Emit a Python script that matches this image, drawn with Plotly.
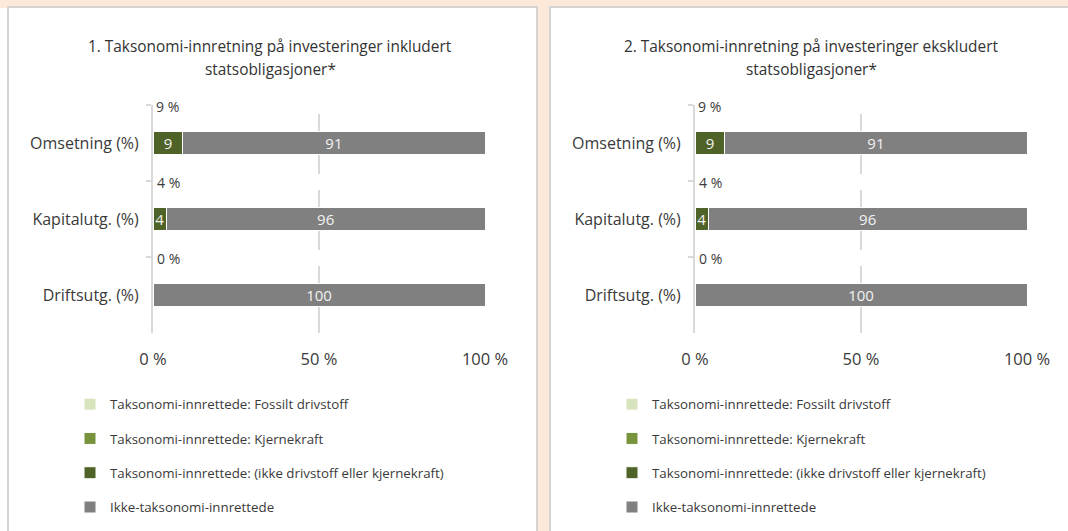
import plotly.graph_objects as go

W, H = 1068, 531

categories = ["Omsetning (%)", "Kapitalutg. (%)", "Driftsutg. (%)"]

series_names = [
    "Taksonomi-innrettede: Fossilt drivstoff",
    "Taksonomi-innrettede: Kjernekraft",
    "Taksonomi-innrettede: (ikke drivstoff eller kjernekraft)",
    "Ikke-taksonomi-innrettede",
]
series_colors = ["#d7e4bd", "#77933c", "#4f6228", "#808080"]

# Chart 1: including government bonds
c1_fossil = [0, 0, 0]
c1_nuclear = [0, 0, 0]
c1_aligned = [9, 4, 0]
c1_not_aligned = [91, 96, 100]
c1_total_aligned = [9, 4, 0]

# Chart 2: excluding government bonds
c2_fossil = [0, 0, 0]
c2_nuclear = [0, 0, 0]
c2_aligned = [9, 4, 0]
c2_not_aligned = [91, 96, 100]
c2_total_aligned = [9, 4, 0]

titles = [
    ["1. Taksonomi-innretning på investeringer inkludert", "statsobligasjoner*"],
    ["2. Taksonomi-innretning på investeringer ekskludert", "statsobligasjoner*"],
]

x_ticks = [0, 50, 100]
x_ticktext = ["0 %", "50 %", "100 %"]

FONT = "Open Sans"
TXT = "#3a3a3a"
GRID = "#d9d9d9"
BG = "#fce9d9"

LABEL_SHIFT = 37  # px above the bar centre for the "x %" labels
BAND_PX = 76      # pixel height of one category band

fig = go.Figure()

charts = [
    ([c1_fossil, c1_nuclear, c1_aligned, c1_not_aligned], c1_total_aligned, "x", "y", "legend"),
    ([c2_fossil, c2_nuclear, c2_aligned, c2_not_aligned], c2_total_aligned, "x2", "y2", "legend2"),
]

for ci, (vals, totals, xa, ya, leg) in enumerate(charts):
    for si, (name, color, v) in enumerate(zip(series_names, series_colors, vals)):
        fig.add_trace(go.Bar(
            x=v, y=categories, orientation="h",
            name=name, xaxis=xa, yaxis=ya, legend=leg,
            legendgroup=f"{leg}_{si}",
            marker=dict(color=color, line=dict(color="white", width=1)),
            text=[str(t) if t > 0 else "" for t in v],
            textposition="inside", insidetextanchor="middle", textangle=0,
            textfont=dict(family=FONT, size=15, color="#f2f2f2"),
            hoverinfo="skip",
        ))
    for i, (cat, t) in enumerate(zip(categories, totals)):
        big = t >= 5
        fig.add_annotation(
            x=t / 2 if big else 0, y=cat, xref=xa, yref=ya,
            text=f"{t} %", showarrow=False,
            xanchor="center" if big else "left", yanchor="middle",
            yshift=LABEL_SHIFT, xshift=0 if big else 2,
            font=dict(family=FONT, size=14, color=TXT),
        )
        # white gap in the 50 % gridline behind the label row
        fig.add_shape(type="rect", xref=xa, yref=ya,
                      x0=48, x1=52,
                      y0=i - (LABEL_SHIFT + 8) / BAND_PX,
                      y1=i - (LABEL_SHIFT - 8) / BAND_PX,
                      fillcolor="white", line=dict(width=0), layer="between")

# Panels
panels = [(8, 537), (550, 1080)]
for x0, x1 in panels:
    fig.add_shape(type="rect", xref="paper", yref="paper",
                  x0=x0 / W, x1=x1 / W, y0=-0.05, y1=1 - 7 / H,
                  fillcolor="white", line=dict(color="#d4d4d4", width=2),
                  layer="below")
# white strip left of the first panel
fig.add_shape(type="rect", xref="paper", yref="paper",
              x0=-0.01, x1=7 / W, y0=-0.05, y1=1 - 8 / H,
              fillcolor="white", line=dict(width=0), layer="below")

# Titles (two lines each)
for lines, cx in zip(titles, [270, 811]):
    for li, (line, cy) in enumerate(zip(lines, [46, 69])):
        fig.add_annotation(x=cx / W, y=1 - cy / H, xref="paper", yref="paper",
                           text=line, showarrow=False, xanchor="center",
                           yanchor="middle",
                           font=dict(family=FONT, size=15.4, color="#333333"))

ydom = [1 - 333 / H, 1 - 105 / H]
xdoms = [[153 / W, 485 / W], [695 / W, 1027 / W]]

axis_common_x = dict(
    range=[0, 100], tickvals=x_ticks, ticktext=x_ticktext,
    showgrid=True, gridcolor=GRID, gridwidth=2, zeroline=False,
    showline=False, ticks="outside", ticklen=11, tickcolor="rgba(0,0,0,0)",
    tickfont=dict(family=FONT, size=16.5, color=TXT), fixedrange=True,
    automargin=False,
)
axis_common_y = dict(
    type="category", categoryorder="array", categoryarray=categories,
    range=[len(categories) - 0.5, -0.5], autorange=False,
    showgrid=False, zeroline=False,
    showline=True, linecolor=GRID, linewidth=2,
    ticks="outside", ticklen=5, tickcolor=GRID, tickwidth=2, tickson="boundaries",
    tickfont=dict(family=FONT, size=16, color=TXT), ticklabelstandoff=9,
    fixedrange=True, automargin=False,
)

fig.update_layout(
    width=W, height=H,
    margin=dict(l=0, r=0, t=0, b=0, autoexpand=False),
    paper_bgcolor=BG, plot_bgcolor="rgba(0,0,0,0)",
    barmode="stack", bargap=0.71,
    showlegend=True,
    uniformtext=dict(minsize=14, mode="show"),
    xaxis=dict(domain=xdoms[0], anchor="y", **axis_common_x),
    xaxis2=dict(domain=xdoms[1], anchor="y2", **axis_common_x),
    yaxis=dict(domain=ydom, anchor="x", **axis_common_y),
    yaxis2=dict(domain=ydom, anchor="x2", **axis_common_y),
    legend=dict(x=70 / W, y=1 - 389 / H, xanchor="left", yanchor="top",
                traceorder="grouped", tracegroupgap=14, bgcolor="rgba(0,0,0,0)",
                font=dict(family=FONT, size=13.3, color=TXT)),
    legend2=dict(x=612 / W, y=1 - 389 / H, xanchor="left", yanchor="top",
                 traceorder="grouped", tracegroupgap=14, bgcolor="rgba(0,0,0,0)",
                 font=dict(family=FONT, size=13.3, color=TXT)),
)

fig.write_html("out.html", config={"displayModeBar": False},
               post_script="document.body.style.margin='0';")
